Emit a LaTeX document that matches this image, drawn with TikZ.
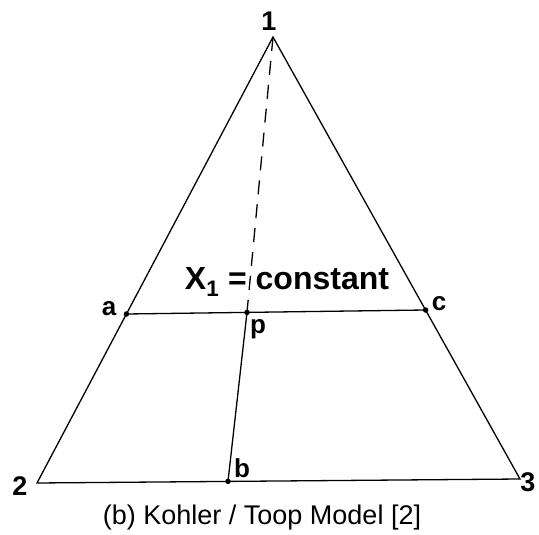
\documentclass[tikz,border=0pt]{standalone}
\usepackage{fontspec}
\setmainfont{Liberation Sans}
\begin{document}
\begin{tikzpicture}[x=1pt,y=-1pt,
  edge/.style={line width=1.3pt,black},
  dot/.style={circle,fill=black,inner sep=0pt,minimum size=5.5pt},
  vlab/.style={font=\fontsize{27}{30}\selectfont\bfseries,inner sep=0pt},
  plab/.style={font=\fontsize{26}{29}\selectfont\bfseries,inner sep=0pt}]
\useasboundingbox (0,0) rectangle (539,535);
\coordinate (v1) at (273,37);
\coordinate (v2) at (37,483);
\coordinate (v3) at (520,479);
\node[dot] (a) at (126.4,314) {};
\node[dot] (c) at (425.6,310) {};
\node[dot] (p) at (247,312.4) {};
\node[dot] (b) at (228,481.4) {};
\draw[edge,line join=miter] (v2) -- (v1) -- (v3) -- cycle;
\draw[edge] (a.center) -- (c.center);
\draw[edge] (p.center) -- (b.center);
\draw[edge,dash pattern=on 14pt off 10pt] (v1) -- (p.center);
\node[vlab] (l1) at (269,21) {1};
\node[vlab] (l2) at (20,486) {2};
\node[vlab] (l3) at (528,482) {3};
\node[plab] (la) at (109,309) {a};
\node[plab] (lc) at (439,304) {c};
\node[plab] (lp) at (258,329) {p};
\node[plab] (lb) at (242,468) {b};
\node[font=\fontsize{32}{36}\selectfont\bfseries,inner sep=0pt] (eq) at (287,282) {X\textsubscript{1} = constant};
\node[font=\fontsize{27}{31}\selectfont,inner sep=0pt] (cap) at (262,518) {(b) Kohler / Toop Model [2]};
\end{tikzpicture}
\end{document}
